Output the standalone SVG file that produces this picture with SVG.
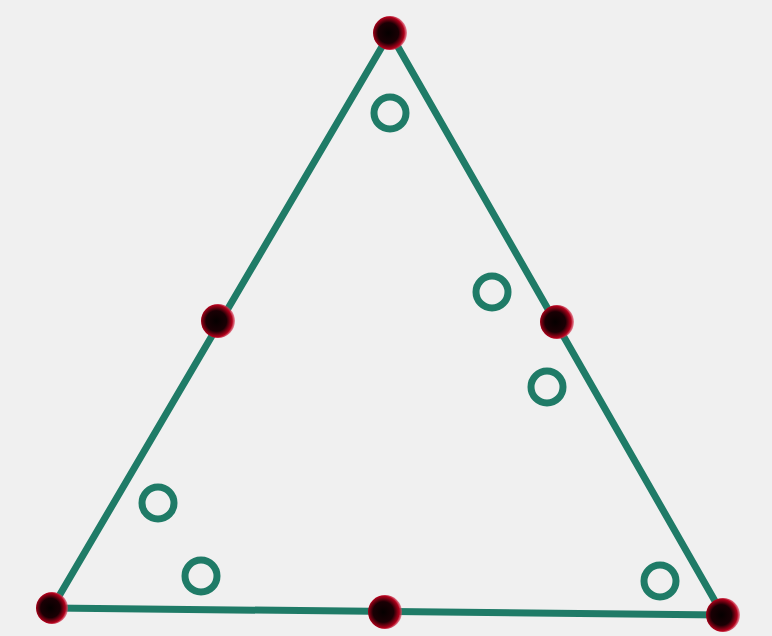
<svg xmlns="http://www.w3.org/2000/svg" width="772" height="636" viewBox="0 0 772 636">
<defs>
<radialGradient id="dotg" cx="0.45" cy="0.5" r="0.55">
<stop offset="0" stop-color="#050000"/>
<stop offset="0.55" stop-color="#1a0004"/>
<stop offset="0.85" stop-color="#b0001a"/>
<stop offset="1" stop-color="#e0506a" stop-opacity="0.6"/>
</radialGradient>
</defs>
<style>
.edge{stroke:#1f7b67;stroke-width:7;stroke-linecap:round;fill:none}
.dot{fill:url(#dotg)}
.ring{fill:none;stroke:#1f7b67;stroke-width:7}
</style>
<rect width="772" height="636" fill="#f0f0f0"/>
<g id="connectors">
<line class="edge" x1="390" y1="33" x2="52" y2="608"/>
<line class="edge" x1="390" y1="33" x2="723" y2="615"/>
<line class="edge" x1="52" y1="608" x2="723" y2="615"/>
</g>
<g id="vertex-top"><circle class="dot" cx="390" cy="33" r="17"/></g>
<g id="vertex-left"><circle class="dot" cx="52" cy="608" r="16"/></g>
<g id="vertex-right"><circle class="dot" cx="723" cy="615" r="17"/></g>
<g id="mid-left"><circle class="dot" cx="218" cy="321" r="17"/></g>
<g id="mid-right"><circle class="dot" cx="557" cy="322" r="17"/></g>
<g id="mid-bottom"><circle class="dot" cx="385" cy="612" r="17"/></g>
<g id="ring-1"><circle class="ring" cx="390" cy="113" r="16"/></g>
<g id="ring-2"><circle class="ring" cx="492" cy="292" r="16"/></g>
<g id="ring-3"><circle class="ring" cx="547" cy="387" r="16"/></g>
<g id="ring-4"><circle class="ring" cx="158" cy="503" r="16"/></g>
<g id="ring-5"><circle class="ring" cx="201" cy="576" r="16"/></g>
<g id="ring-6"><circle class="ring" cx="660" cy="581" r="16"/></g>
</svg>
